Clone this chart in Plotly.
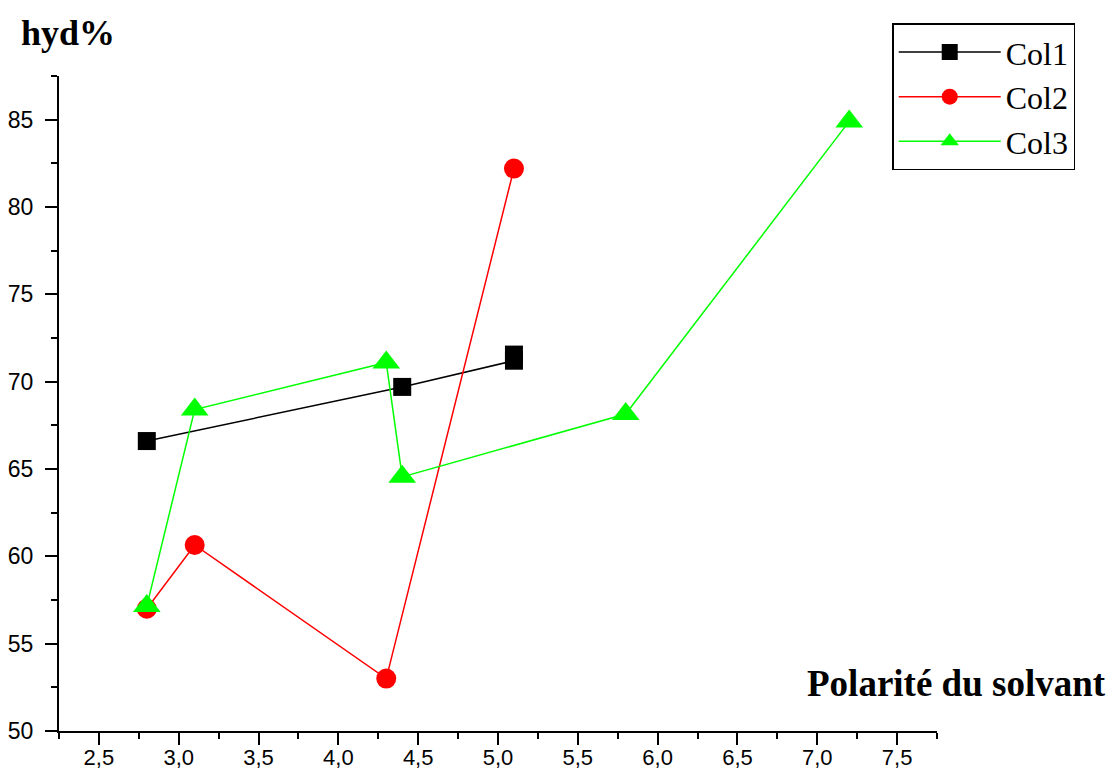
import plotly.graph_objects as go

# Solvent polarity (x) versus hydrolysis yield in % (y) for three columns
col1_x = [2.8, 4.4, 5.1, 5.1]
col1_y = [66.6, 69.7, 71.2, 71.55]

col2_x = [2.8, 3.1, 4.3, 5.1]
col2_y = [57.0, 60.65, 53.0, 82.2]

col3_x = [2.8, 3.1, 4.3, 4.4, 5.8, 7.2]
col3_y = [57.15, 68.4, 71.1, 64.55, 68.15, 84.9]

series_names = ["Col1", "Col2", "Col3"]
series_colors = ["#000000", "#ff0000", "#00ff00"]
series_symbols = ["square", "circle", "triangle-up"]
series_sizes = [18, 20, 24]

x_title = "Polarité du solvant"
y_title = "hyd%"

fig = go.Figure()
for name, xs, ys, color, symbol, size in zip(
    series_names,
    [col1_x, col2_x, col3_x],
    [col1_y, col2_y, col3_y],
    series_colors,
    series_symbols,
    series_sizes,
):
    fig.add_trace(
        go.Scatter(
            x=xs,
            y=ys,
            name=name,
            mode="lines+markers",
            line=dict(color=color, width=1.5),
            marker=dict(symbol=symbol, size=size, color=color, line=dict(width=0)),
        )
    )

axis_common = dict(
    showline=True,
    linecolor="black",
    linewidth=2,
    ticks="outside",
    tickcolor="black",
    tickwidth=2,
    ticklen=12,
    showgrid=False,
    zeroline=False,
    mirror=False,
    automargin=False,
)

fig.update_xaxes(
    range=[2.25, 7.75],
    dtick=0.5,
    tick0=2.5,
    tickformat=".1f",
    minor=dict(dtick=0.25, tick0=2.25, ticks="outside", ticklen=6, tickwidth=2, tickcolor="black"),
    ticklabelstandoff=-6,
    tickfont=dict(family="Liberation Sans, Arial", size=22, color="black"),
    **axis_common,
)
fig.update_yaxes(
    range=[50, 87.5],
    dtick=5,
    tick0=50,
    minor=dict(dtick=2.5, tick0=50, ticks="outside", ticklen=6, tickwidth=2, tickcolor="black"),
    ticklabelstandoff=7,
    tickfont=dict(family="Liberation Sans, Arial", size=23, color="black"),
    **axis_common,
)

fig.add_annotation(
    text=f"<b>{y_title}</b>",
    xref="paper", yref="paper",
    x=-0.0456, y=1.065,
    xanchor="left", yanchor="middle",
    showarrow=False,
    font=dict(family="Liberation Serif, Times New Roman", size=36, color="black"),
)
fig.add_annotation(
    text=f"<b>{x_title}</b>",
    xref="paper", yref="paper",
    x=1.1948, y=0.0728,
    xanchor="right", yanchor="middle",
    showarrow=False,
    font=dict(family="Liberation Serif, Times New Roman", size=37, color="black"),
)

fig.update_layout(
    width=1115,
    height=774,
    margin=dict(l=59, r=178, t=76, b=43),
    paper_bgcolor="white",
    plot_bgcolor="white",
    separators=", ",
    showlegend=True,
    legend=dict(
        x=0.949, y=1.0805,
        xanchor="left", yanchor="top",
        bordercolor="black",
        borderwidth=1.5,
        bgcolor="white",
        itemwidth=102,
        font=dict(family="Liberation Serif, Times New Roman", size=32, color="black"),
        tracegroupgap=0,
    ),
)

fig.write_html("out.html")
